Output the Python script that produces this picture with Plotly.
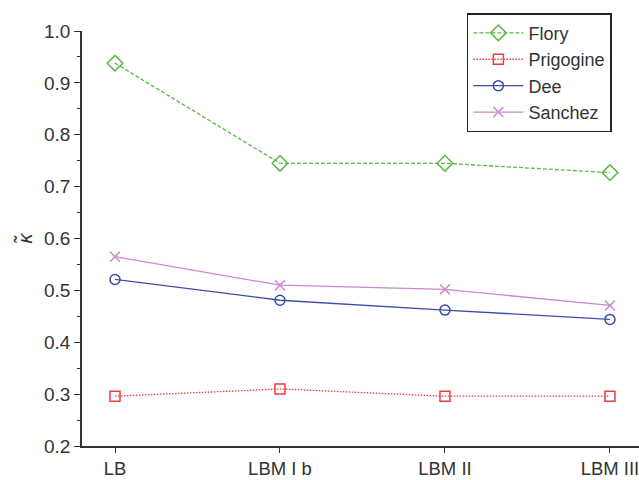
import plotly.graph_objects as go

categories = ["LB", "LBM I b", "LBM II", "LBM III"]
flory = [0.938, 0.745, 0.745, 0.727]
prigogine = [0.296, 0.310, 0.296, 0.296]
dee = [0.521, 0.481, 0.462, 0.444]
sanchez = [0.565, 0.510, 0.502, 0.471]

xs = list(range(len(categories)))

series = [
    ("Flory", flory, "#5cb848", "4px,2px", "diamond-open", 12),
    ("Prigogine", prigogine, "#f03c3c", "1.5px,1.5px", "square-open", 10),
    ("Dee", dee, "#3a4ea8", "solid", "circle-open", 10),
    ("Sanchez", sanchez, "#cc88cc", "solid", "x-thin-open", 10),
]

fig = go.Figure()
for name, vals, color, dash, sym, msize in series:
    fig.add_trace(go.Scatter(
        x=xs, y=vals, name=name, mode="lines+markers",
        line=dict(color=color, width=1.3, dash=dash),
        marker=dict(symbol=sym, size=msize, color=color, line=dict(color=color, width=1.5)),
    ))

fig.update_layout(
    width=639, height=480,
    margin=dict(l=82, r=0, t=31, b=34),
    paper_bgcolor="white", plot_bgcolor="white",
    font=dict(family="Liberation Sans, Arial", size=19, color="#333333"),
    showlegend=True,
    legend=dict(x=0.691, y=1.043, xanchor="left", yanchor="top",
                bordercolor="#222222", borderwidth=1.5, bgcolor="white",
                font=dict(size=18, color="#333333"), tracegroupgap=0,
                itemwidth=50),
)
fig.update_xaxes(
    range=[-0.2, 3.176], tickmode="array", tickvals=xs, ticktext=categories,
    showline=True, linecolor="#333333", linewidth=1.5, mirror=False,
    ticks="outside", ticklen=5, tickcolor="#333333", tickwidth=1.2,
    tickfont=dict(size=18.5),
    showgrid=False, zeroline=False, automargin=False, ticklabeloverflow="allow",
)
fig.update_yaxes(
    range=[0.2, 1.0], dtick=0.1, tick0=0.2, tickformat=".1f",
    showline=True, linecolor="#333333", linewidth=1.5,
    ticks="outside", ticklen=6, tickcolor="#333333", tickwidth=1.2,
    minor=dict(dtick=0.05, ticklen=3, ticks="outside", tickcolor="#333333", showgrid=False),
    showgrid=False, zeroline=False, automargin=False,
    title=dict(text="<i>\u03ba\u0303</i>", font=dict(size=20), standoff=6),
)

fig.write_html("out.html")
